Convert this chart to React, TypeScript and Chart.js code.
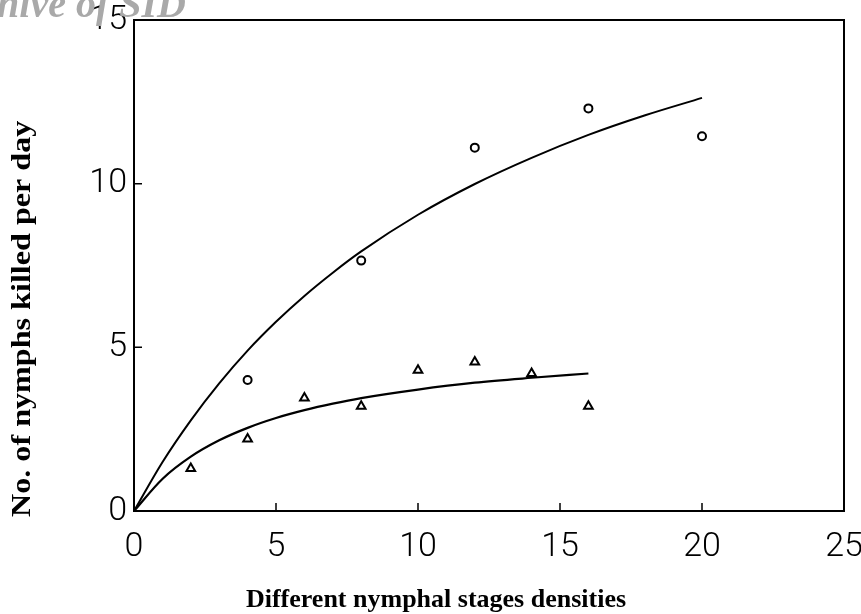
import React, { useEffect, useRef } from "react";
import { Chart, registerables } from "chart.js";

Chart.register(...registerables);

// Observed data
const circleX = [4, 8, 12, 16, 20];
const circleY = [4.0, 7.65, 11.1, 12.3, 11.45];
const triangleX = [2, 4, 6, 8, 10, 12, 14, 16];
const triangleY = [1.3, 2.2, 3.45, 3.2, 4.3, 4.55, 4.2, 3.2];

// Fitted curves
const upperCurveX = [0, 1, 2, 3, 4, 5, 6, 7, 8, 10, 12, 14, 16, 18, 20];
const upperCurveY = [0, 1.49, 2.77, 3.9, 4.9, 5.78, 6.57, 7.28, 7.93, 9.05, 9.99, 10.79, 11.49, 12.09, 12.62];
const lowerCurveX = [0, 1, 2, 3, 4, 5, 6, 7, 8, 10, 12, 14, 16];
const lowerCurveY = [0, 0.98, 1.66, 2.16, 2.54, 2.84, 3.08, 3.28, 3.45, 3.71, 3.92, 4.07, 4.2];

const xTicks = [0, 5, 10, 15, 20, 25];
const yTicks = [0, 5, 10, 15];

const xTitle = "Different nymphal stages densities";
const yTitle = "No. of nymphs killed per day";
const watermark = "Archive of SID";

const toPts = (xs: number[], ys: number[]) => xs.map((x, i) => ({ x, y: ys[i] }));

const decorPlugin = {
  id: "decor",
  afterDraw(chart: any) {
    const ctx = chart.ctx;
    const xs = chart.scales.x;
    const ys = chart.scales.y;
    const area = chart.chartArea;
    ctx.save();
    // frame
    ctx.strokeStyle = "#000";
    ctx.lineWidth = 2;
    ctx.strokeRect(area.left, area.top, area.right - area.left, area.bottom - area.top);
    // inward ticks
    ctx.lineWidth = 1.5;
    ctx.beginPath();
    [5, 10, 15, 20].forEach((v) => {
      const px = xs.getPixelForValue(v);
      ctx.moveTo(px, area.bottom);
      ctx.lineTo(px, area.bottom - 8);
    });
    [5, 10].forEach((v) => {
      const py = ys.getPixelForValue(v);
      ctx.moveTo(area.left, py);
      ctx.lineTo(area.left + 8, py);
    });
    ctx.stroke();
    // axis titles
    ctx.fillStyle = "#000";
    ctx.font = "bold 26px 'Liberation Serif', 'Times New Roman', serif";
    ctx.textAlign = "center";
    ctx.textBaseline = "alphabetic";
    ctx.fillText(xTitle, 436, 607);
    ctx.save();
    ctx.translate(30, 517);
    ctx.rotate(-Math.PI / 2);
    ctx.scale(1.19, 1);
    ctx.textAlign = "left";
    ctx.font = "bold 27px 'Liberation Serif', 'Times New Roman', serif";
    ctx.fillText(yTitle, 0, 0);
    ctx.restore();
    // watermark
    ctx.fillStyle = "#a9a9a9";
    ctx.font = "italic bold 40px 'Liberation Serif', 'Times New Roman', serif";
    ctx.textAlign = "right";
    ctx.fillText(watermark, 186, 17);
    ctx.restore();
  },
};

export default function App() {
  const ref = useRef<HTMLCanvasElement>(null);
  useEffect(() => {
    if (!ref.current) return;
    const tickFont = { family: "Roboto, 'Liberation Sans', sans-serif", size: 34, weight: "300" as any };
    const chart = new Chart(ref.current, {
      type: "scatter",
      data: {
        datasets: [
          {
            data: toPts(upperCurveX, upperCurveY),
            showLine: true,
            borderColor: "#000",
            borderWidth: 2,
            pointRadius: 0,
            cubicInterpolationMode: "monotone",
          },
          {
            data: toPts(lowerCurveX, lowerCurveY),
            showLine: true,
            borderColor: "#000",
            borderWidth: 2.2,
            pointRadius: 0,
            cubicInterpolationMode: "monotone",
          },
          {
            data: toPts(circleX, circleY),
            pointStyle: "circle",
            pointRadius: 4,
            borderColor: "#000",
            borderWidth: 2,
            backgroundColor: "#fff",
          },
          {
            data: toPts(triangleX, triangleY),
            pointStyle: "triangle",
            pointRadius: 5,
            borderColor: "#000",
            borderWidth: 2,
            backgroundColor: "#fff",
          },
        ],
      },
      options: {
        animation: false,
        responsive: true,
        maintainAspectRatio: false,
        layout: { padding: { left: 0, top: 20, right: 17, bottom: 0 } },
        plugins: { legend: { display: false }, tooltip: { enabled: false } },
        scales: {
          x: {
            type: "linear",
            min: 0,
            max: 25,
            afterBuildTicks: (s: any) => {
              s.ticks = xTicks.map((v) => ({ value: v }));
            },
            afterFit: (s: any) => {
              s.height = 103;
              s.paddingLeft = 0;
              s.paddingRight = 0;
            },
            grid: { display: false, drawTicks: false },
            border: { display: false },
            ticks: { color: "#000", font: tickFont, padding: 16, maxRotation: 0 },
          },
          y: {
            type: "linear",
            min: 0,
            max: 15,
            afterBuildTicks: (s: any) => {
              s.ticks = yTicks.map((v) => ({ value: v }));
            },
            afterFit: (s: any) => {
              s.width = 134;
              s.paddingTop = 0;
              s.paddingBottom = 0;
            },
            grid: { display: false, drawTicks: false },
            border: { display: false },
            ticks: { color: "#000", font: tickFont, padding: 7 },
          },
        },
      },
      plugins: [decorPlugin],
    });
    return () => chart.destroy();
  }, []);
  return (
    <div style={{ position: "fixed", left: 0, top: 0, width: 861, height: 614, background: "#fff" }}>
      <canvas ref={ref} />
    </div>
  );
}
